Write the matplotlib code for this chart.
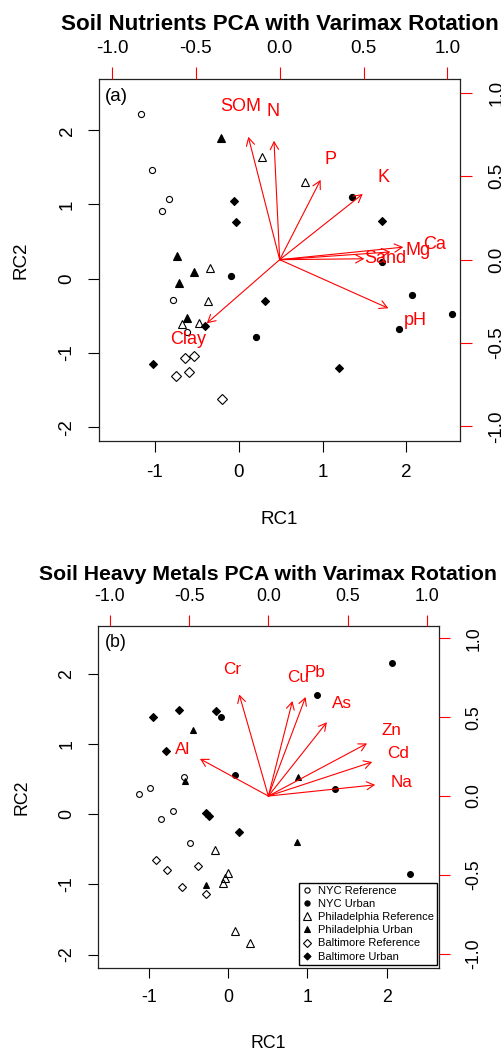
import matplotlib
matplotlib.use('Agg')
import matplotlib.pyplot as plt
from matplotlib.lines import Line2D

plt.rcParams['font.family'] = ['Liberation Sans', 'DejaVu Sans']

W, H = 501, 1050

# ---------------- data ----------------
groups = ["NYC Reference", "NYC Urban", "Philadelphia Reference",
          "Philadelphia Urban", "Baltimore Reference", "Baltimore Urban"]

# Panel (a) soil nutrients: scores (RC1, RC2)
a_nycref_x = [-1.170, -1.031, -0.832, -0.919, -0.780, -0.621]
a_nycref_y = [2.216, 1.465, 1.070, 0.912, -0.287, -0.714]
a_nycurb_x = [1.348, -0.088, 2.068, 2.545, 1.913, 0.206, 1.714]
a_nycurb_y = [1.097, 0.036, -0.220, -0.476, -0.678, -0.790, 0.221]
a_phiref_x = [0.278, 0.795, -0.339, -0.363, -0.677, -0.470]
a_phiref_y = [1.636, 1.307, 0.148, -0.296, -0.611, -0.593]
a_phiurb_x = [-0.211, -0.736, -0.537, -0.716, -0.613]
a_phiurb_y = [1.900, 0.310, 0.086, -0.054, -0.525]
a_balref_x = [-0.641, -0.533, -0.748, -0.589, -0.196]
a_balref_y = [-1.073, -1.046, -1.311, -1.257, -1.617]
a_balurb_x = [-0.052, -0.032, 1.714, 0.318, -0.402, 1.201, -1.019]
a_balurb_y = [1.047, 0.768, 0.778, -0.305, -0.637, -1.208, -1.150]

# Panel (a) loadings
a_vars = ["SOM", "N", "P", "K", "Ca", "Mg", "Sand", "pH", "Clay"]
a_load_x = [-0.234, -0.0425, 0.305, 0.619, 0.921, 0.825, 0.631, 0.810, -0.544]
a_load_y = [0.921, 0.891, 0.598, 0.4925, 0.094, 0.058, 0.007, -0.364, -0.477]

# Panel (b) heavy metals: scores
b_nycref_x = [-0.556, -1.128, -0.989, -0.694, -0.850, -0.484]
b_nycref_y = [0.528, 0.290, 0.371, 0.051, -0.063, -0.409]
b_nycurb_x = [2.071, 1.124, -0.092, 0.085, 1.347, 2.294]
b_nycurb_y = [2.163, 1.706, 1.388, 0.561, 0.357, -0.856]
b_phiref_x = [-0.172, -0.008, -0.042, -0.071, 0.085, 0.274]
b_phiref_y = [-0.509, -0.842, -0.913, -0.975, -1.665, -1.832]
b_phiurb_x = [-0.442, 0.876, -0.547, 0.867, -0.278]
b_phiurb_y = [1.203, 0.536, 0.479, -0.395, -1.004]
b_balref_x = [-0.917, -0.774, -0.383, -0.588, -0.285]
b_balref_y = [-0.657, -0.790, -0.733, -1.032, -1.137]
b_balurb_x = [-0.955, -0.619, -0.155, -0.790, -0.285, -0.240, 0.135]
b_balurb_y = [1.392, 1.488, 1.474, 0.903, 0.023, -0.024, -0.252]

# Panel (b) loadings
b_vars = ["Cr", "Cu", "Pb", "As", "Zn", "Cd", "Na", "Al"]
b_load_x = [-0.230, 0.190, 0.294, 0.462, 0.779, 0.820, 0.843, -0.540]
b_load_y = [0.805, 0.753, 0.785, 0.585, 0.417, 0.270, 0.089, 0.295]

score_ticks_x = [-1, 0, 1, 2]
score_ticks_y = [-2, -1, 0, 1, 2]
load_ticks = [-1.0, -0.5, 0.0, 0.5, 1.0]
load_ticklabels = ["-1.0", "-0.5", "0.0", "0.5", "1.0"]

# ---------------- styles ----------------
styles = [
    dict(marker='o', mfc='none', mec='k', ms=4.4, mew=0.8),
    dict(marker='o', mfc='k', mec='k', ms=4.4, mew=0.8),
    dict(marker='^', mfc='none', mec='k', ms=6.3, mew=0.8),
    dict(marker='^', mfc='k', mec='k', ms=5.3, mew=0.8),
    dict(marker='D', mfc='none', mec='k', ms=4.8, mew=0.8),
    dict(marker='D', mfc='k', mec='k', ms=4.2, mew=0.8),
]

FS = 13.5
fig = plt.figure(figsize=(W / 100, H / 100), dpi=100)


def fx(x):
    return x / W


def fy(y):
    return 1 - y / H


def panel(box, xlim, ylim, lxlim, lylim, xs, ys, vars_, lx, ly, title, tag,
          title_y, tag_xy, rc1_y, rc2_x, s):
    left, top, right, bottom = box
    rect = [fx(left), fy(bottom), (right - left) / W, (bottom - top) / H]
    ax = fig.add_axes(rect)
    for i in range(len(xs)):
        st = dict(styles[i])
        st['ms'] = st['ms'] * s
        ax.plot(xs[i], ys[i], ls='none', **st, zorder=3)
    ax.set_xlim(*xlim)
    ax.set_ylim(*ylim)
    ax.set_xticks(score_ticks_x, labels=[str(v) for v in score_ticks_x])
    ax.set_yticks(score_ticks_y, labels=[str(v) for v in score_ticks_y],
                  rotation=90, va='center')
    ax.tick_params(axis='both', direction='out', length=7.9 * s, width=0.8,
                   labelsize=FS * s, colors='black')
    ax.tick_params(axis='x', pad=8.6 * s)
    ax.tick_params(axis='y', pad=9.0 * s)
    for sp in ax.spines.values():
        sp.set_color('#222222')
        sp.set_linewidth(0.9)

    ax2 = fig.add_axes(rect, label=tag + '_load')
    ax2.patch.set_visible(False)
    for sp in ax2.spines.values():
        sp.set_visible(False)
    ax2.set_xlim(*lxlim)
    ax2.set_ylim(*lylim)
    ax2.xaxis.set_ticks_position('top')
    ax2.yaxis.set_ticks_position('right')
    ax2.set_xticks(load_ticks, labels=load_ticklabels)
    ax2.set_yticks(load_ticks, labels=load_ticklabels, rotation=90, va='center')
    ax2.tick_params(axis='both', direction='out', length=8.6 * s, width=0.8,
                    labelsize=FS * s, color='red', labelcolor='black')
    ax2.tick_params(axis='x', pad=7.6 * s)
    ax2.tick_params(axis='y', pad=11.6 * s)
    for name, vx, vy in zip(vars_, lx, ly):
        ax2.annotate('', xy=(0.8 * vx, 0.8 * vy), xytext=(0, 0),
                     arrowprops=dict(arrowstyle='->,head_length=0.55,head_width=0.3',
                                     color='red', lw=0.8, shrinkA=0, shrinkB=0,
                                     mutation_scale=10 * s))
        ax2.text(vx, vy, name, color='red', ha='center', va='center',
                 fontsize=13 * s)

    cx = (left + right) / 2
    cy = (top + bottom) / 2
    fig.text(fx(cx), fy(title_y), title, ha='center', va='center',
             fontsize=16.1 * s, fontweight='bold')
    fig.text(fx(tag_xy[0]), fy(tag_xy[1]), tag, ha='center', va='center',
             fontsize=FS * s)
    fig.text(fx(cx), fy(rc1_y), "RC1", ha='center', va='center', fontsize=FS * s)
    fig.text(fx(rc2_x), fy(cy), "RC2", ha='center', va='center', fontsize=FS * s,
             rotation=90)
    return ax, ax2


panel((99, 79.3, 460.3, 441), (-1.667, 2.644), (-2.187, 2.687),
      (-1.0775, 1.077), (-1.087, 1.0815),
      [a_nycref_x, a_nycurb_x, a_phiref_x, a_phiurb_x, a_balref_x, a_balurb_x],
      [a_nycref_y, a_nycurb_y, a_phiref_y, a_phiurb_y, a_balref_y, a_balurb_y],
      a_vars, a_load_x, a_load_y,
      "Soil Nutrients PCA with Varimax Rotation", "(a)",
      24, (116.7, 96.7), 520, 21, 1.0)

panel((97.7, 626, 438.7, 967.7), (-1.649, 2.657), (-2.188, 2.686),
      (-1.078, 1.076), (-1.088, 1.078),
      [b_nycref_x, b_nycurb_x, b_phiref_x, b_phiurb_x, b_balref_x, b_balurb_x],
      [b_nycref_y, b_nycurb_y, b_phiref_y, b_phiurb_y, b_balref_y, b_balurb_y],
      b_vars, b_load_x, b_load_y,
      "Soil Heavy Metals PCA with Varimax Rotation", "(b)",
      574, (116, 642.7), 1043.5, 22, 0.95)

handles = [Line2D([], [], ls='none', **st) for st in styles]
leg = fig.legend(handles, groups, loc='lower right',
                 bbox_to_anchor=(fx(436.5), fy(964.5)),
                 bbox_transform=fig.transFigure, frameon=True, fancybox=False,
                 edgecolor='black', framealpha=1, fontsize=8, borderpad=0.25,
                 labelspacing=0.29, handlelength=0.8, handletextpad=0.6,
                 borderaxespad=0, markerscale=0.85)
leg.get_frame().set_linewidth(1.0)

fig.savefig('out.png', dpi=100)
